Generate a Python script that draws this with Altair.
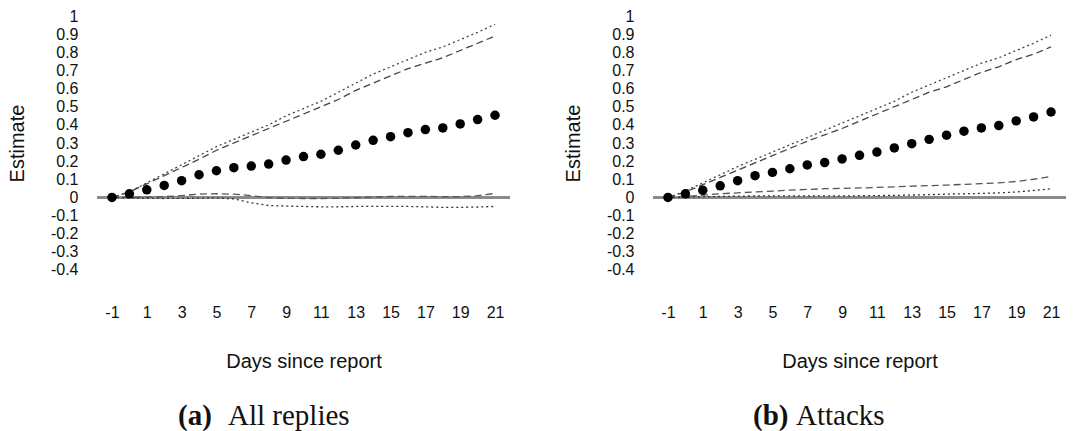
import altair as alt
import pandas as pd

# Event-study estimates by day relative to the report
days = list(range(-1, 22))

replies_est = [0, .020, .042, .066, .092, .125, .147, .164, .173, .184, .206, .225,
               .238, .260, .289, .315, .335, .357, .374, .383, .405, .429, .453]
replies_hi_dot = [0, .03, .08, .13, .18, .23, .28, .32, .36, .40, .45, .49,
                  .53, .58, .63, .68, .72, .76, .80, .83, .87, .91, .955]
replies_hi_dash = [0, .03, .075, .12, .165, .21, .26, .30, .34, .38, .42, .46,
                   .50, .54, .59, .63, .67, .71, .74, .77, .81, .85, .89]
replies_lo_dash = [0, 0, .002, .004, .01, .018, .02, .018, .01, -.002, -.005, -.006,
                   -.006, -.005, -.002, .002, .005, .006, .006, .004, .004, .01, .022]
replies_lo_dot = [0, -.003, -.005, -.006, -.005, -.004, -.003, -.008, -.03, -.045, -.048, -.05,
                  -.052, -.052, -.05, -.05, -.05, -.05, -.052, -.055, -.055, -.053, -.05]

attacks_est = [0, .020, .039, .064, .092, .120, .138, .158, .179, .192, .212, .232,
               .250, .273, .296, .320, .343, .365, .383, .396, .422, .444, .471]
attacks_hi_dot = [0, .035, .08, .125, .17, .21, .25, .29, .33, .37, .41, .45,
                  .49, .53, .58, .62, .66, .70, .74, .77, .81, .85, .895]
attacks_hi_dash = [0, .03, .07, .11, .15, .19, .23, .27, .31, .345, .38, .42,
                   .46, .50, .54, .58, .61, .65, .69, .72, .76, .79, .83]
attacks_lo_dash = [0, .005, .012, .02, .025, .03, .035, .04, .044, .048, .05, .052,
                   .055, .058, .062, .065, .068, .072, .076, .08, .088, .1, .115]
attacks_lo_dot = [0, 0, .003, .005, .007, .008, .008, .008, .008, .008, .008, .009,
                  .01, .011, .013, .015, .018, .02, .022, .025, .03, .038, .048]

x_ticks = [-1, 1, 3, 5, 7, 9, 11, 13, 15, 17, 19, 21]
y_ticks = [-0.4, -0.3, -0.2, -0.1, 0, 0.1, 0.2, 0.3, 0.4, 0.5, 0.6, 0.7, 0.8, 0.9, 1]

SANS = "Liberation Sans"
SERIF = "Liberation Serif"
W, H = 413, 272


def panel(est, hi_dot, hi_dash, lo_dash, lo_dot, tag, name, tag_x, name_x):
    pts = pd.DataFrame({"day": days, "est": est})
    bands = pd.DataFrame({
        "day": days * 4,
        "value": hi_dot + hi_dash + lo_dash + lo_dot,
        "band": (["hi_dot"] * len(days) + ["hi_dash"] * len(days)
                 + ["lo_dash"] * len(days) + ["lo_dot"] * len(days)),
    })

    x = alt.X("day:Q",
              scale=alt.Scale(domain=[-1.86, 21.86], nice=False, zero=False),
              axis=alt.Axis(values=x_ticks, title="Days since report",
                            labelExpr="datum.value + ''", grid=False,
                            domain=False, ticks=False, labelPadding=25,
                            labelFontSize=16, labelFont=SANS, labelColor="#111",
                            titleFont=SANS, titleFontSize=20, titleFontWeight="normal",
                            titleColor="#111", titlePadding=31))
    y_scale = alt.Scale(domain=[-0.45, 1.05], nice=False, zero=False)
    y_axis = alt.Axis(values=y_ticks, title="Estimate", labelExpr="datum.value + ''",
                      grid=False, domain=False, ticks=False, labelPadding=19,
                      labelFontSize=16, labelFont=SANS, labelColor="#111",
                      titleFont=SANS, titleFontSize=20, titleFontWeight="normal",
                      titleColor="#111", titlePadding=23)

    zero = alt.Chart(pts).mark_rule(color="#8a8a8a", strokeWidth=1.5).encode(
        y=alt.datum(0, scale=y_scale, axis=y_axis))

    def band(key, dash, color):
        return alt.Chart(bands).transform_filter(
            alt.datum.band == key
        ).mark_line(strokeDash=dash, strokeWidth=1.3, color=color).encode(
            x=x, y=alt.Y("value:Q", scale=y_scale, axis=y_axis))

    lines = [
        band("hi_dot", [2, 3], "#444"),
        band("hi_dash", [7, 4], "#444"),
        band("lo_dash", [7, 4], "#555"),
        band("lo_dot", [2, 3], "#333"),
    ]

    dots = alt.Chart(pts).mark_circle(size=90, color="black", opacity=1).encode(
        x=x, y=alt.Y("est:Q", scale=y_scale, axis=y_axis))

    cap = pd.DataFrame({"tag": [tag], "name": [name]})
    tag_txt = alt.Chart(cap).mark_text(
        font=SERIF, fontSize=29, fontWeight="bold", align="left",
        baseline="alphabetic", color="#111"
    ).encode(text="tag:N", x=alt.value(tag_x), y=alt.value(418))
    name_txt = alt.Chart(cap).mark_text(
        font=SERIF, fontSize=29, align="left", baseline="alphabetic", color="#111"
    ).encode(text="name:N", x=alt.value(name_x), y=alt.value(418))

    return alt.layer(zero, *lines, dots, tag_txt, name_txt).properties(width=W, height=H)


left = panel(replies_est, replies_hi_dot, replies_hi_dash, replies_lo_dash, replies_lo_dot,
             "(a)", "All replies", 81, 131)
right = panel(attacks_est, attacks_hi_dot, attacks_hi_dash, attacks_lo_dash, attacks_lo_dot,
              "(b)", "Attacks", 100, 143)

chart = alt.hconcat(left, right, spacing=52).properties(
    padding={"left": 7, "top": 7, "right": 0, "bottom": 0}
).configure(background="white").configure_view(strokeWidth=0)

chart.save("out.html", embed_options={"renderer": "svg", "actions": False})
